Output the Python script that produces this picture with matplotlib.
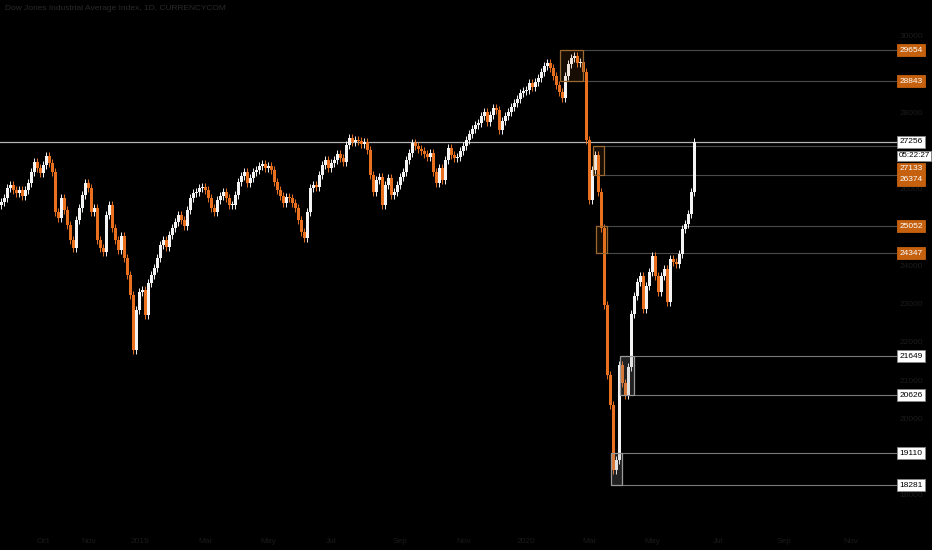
import numpy as np
import matplotlib.pyplot as plt
from matplotlib.transforms import blended_transform_factory
from matplotlib.patches import Rectangle

# closes (2-day candles)
closes = [
    25680, 25790, 26050, 26130, 26000, 25920, 26000, 25840, 26000, 26180, 26470, 26730, 26570, 26440, 26650, 26880,
    26700, 26470, 25420, 25260, 25790, 25470, 25080, 24690, 24480, 25210, 25520, 25860, 26180, 26050, 25420, 25520,
    24690, 24480, 24370, 25340, 25600, 25000, 24690, 24430, 24790, 24220, 23770, 23250, 21810,
    22860, 23330, 23380, 22730, 23560, 23770, 23950, 24220, 24560, 24690, 24500, 24820, 25000, 25160, 25340, 25210,
    25050, 25470, 25790, 25920, 25940, 26050, 26070, 25990, 25790, 25520, 25420, 25730, 25840, 25940, 25790, 25600,
    25600, 25860, 26200, 26360, 26460, 26180, 26310, 26460, 26520, 26620, 26670, 26570, 26620, 26520, 26200, 25990,
    25840, 25660, 25810, 25790, 25660, 25520, 25210, 24900,
    24740, 25420, 26050, 26130, 26070, 26390, 26650, 26780, 26570, 26700, 26780, 26940, 26830, 26730, 27170, 27350,
    27250, 27300, 27280, 27200, 27250, 27040, 26390, 25940, 26260, 26330, 25600, 26130, 26310, 25860, 25940, 26130,
    26330, 26460, 26780, 26960, 27220, 27140, 27070, 27010,
    26930, 26860, 26960, 26470, 26180, 26570, 26260, 26780, 27090, 26910, 26830, 26860, 27010, 27140, 27300, 27460,
    27590, 27690, 27750, 27930, 28030, 27770, 27960, 28140, 28090, 27560, 27800, 27930, 28030, 28160, 28270, 28370,
    28530, 28580, 28610, 28790, 28690, 28820, 28920, 29080, 29240, 29310, 29180, 28980, 28740, 28560, 28400, 28980,
    29290, 29440, 29500, 29310, 29340, 29080,
    27300, 25730, 26520, 26910, 25940, 25000, 22990, 21160, 20370, 18670, 18940, 21420, 20950, 20640, 21370, 22750,
    23220, 23590, 23750, 22880, 23480, 23850, 24270, 23750, 23330, 23750, 23930, 23070, 24190, 24110, 24060, 24320,
    24970, 25100, 25360, 25940, 27250,
]
first_open = 25600

# supply / demand zones: (first candle, last candle, top, bottom, kind)
zone_start = [187, 198, 199, 207, 204]
zone_end = [193, 200, 201, 210, 206]
zone_top = [29654, 27133, 25052, 21649, 19110]
zone_bot = [28843, 26374, 24347, 20626, 18281]
zone_kind = ["supply", "supply", "supply", "demand", "demand"]

last_price = 27256
countdown = "05:22:27"
title = "Dow Jones Industrial Average Index, 1D, CURRENCYCOM"

# scale labels not hidden behind the price tags
price_ticks = [30000, 28000, 26000, 24000, 23000, 22000, 21000, 20000, 18000]
time_labels = ["Oct", "Nov", "2019", "Mar", "May", "Jul", "Sep", "Nov", "2020", "Mar", "May", "Jul", "Sep", "Nov"]
time_pos = [14, 29, 46, 68, 89, 110, 133, 154, 175, 196, 217, 239, 261, 283]

UP = "#f4f4f4"
DOWN = "#e8701e"
ORANGE_LBL = "#c4600e"
FONT = ["Liberation Sans", "DejaVu Sans"]

c = np.array(closes, dtype=float)
o = np.concatenate([[first_open], c[:-1]])
idx = np.arange(len(c))
up = c >= o
wick = 110
hi = np.maximum(o, c) + wick
lo = np.minimum(o, c) - wick

fig = plt.figure(figsize=(9.32, 5.5), dpi=100)
fig.patch.set_facecolor("black")
ax = fig.add_axes([0, 0, 1, 1])
ax.set_facecolor("black")
ax.set_xlim(-0.5, 310.2)
ax.set_ylim(16584, 30961)
ax.axis("off")

cols = np.where(up, UP, DOWN)
ax.vlines(idx, lo, hi, colors=cols, linewidth=0.7, zorder=3)
body_h = np.maximum(np.abs(c - o), 30)
ax.bar(idx, body_h, bottom=np.minimum(o, c), width=0.72, color=cols, linewidth=0, zorder=4)

x_end = 298.5
for s, e, t, b, k in zip(zone_start, zone_end, zone_top, zone_bot, zone_kind):
    if k == "supply":
        ec, fc, lc = "#9a6a32", (0.8, 0.45, 0.1, 0.12), "#4a4a4a"
    else:
        ec, fc, lc = "#9a9a9a", (0.6, 0.6, 0.6, 0.22), "#7a7a7a"
    ax.add_patch(Rectangle((s - 0.7, b), e - s + 1.4, t - b, fc=fc, ec=ec, lw=0.9, zorder=5))
    ax.hlines([t, b], e + 0.7, x_end, colors=lc, linewidth=0.8, zorder=2)

ax.axhline(last_price, xmax=(x_end + 0.5) / 310.7, color="#b5b5b5", linewidth=0.9, zorder=2)

tr = blended_transform_factory(ax.transAxes, ax.transData)
lblx = 911 / 932

for p in price_ticks:
    ax.text(lblx, p, f"{p}", transform=tr, ha="center", va="center", fontsize=6, color="#1c1c1c", family=FONT)

# right-hand price tags; two of them pushed down to avoid overlap
labels = zone_top + zone_bot
kinds = zone_kind + zone_kind
shift = {27133: -16, 26374: -3}
for p, k in zip(labels, kinds):
    if k == "supply":
        fc, tc, ec = ORANGE_LBL, "white", ORANGE_LBL
    else:
        fc, tc, ec = "white", "black", "#888888"
    ax.annotate(f"{p}", (lblx, p), xycoords=tr, xytext=(0, shift.get(p, 0)), textcoords="offset points",
                ha="center", va="center", fontsize=6, color=tc, family=FONT, zorder=8,
                bbox=dict(boxstyle="square,pad=0.3", fc=fc, ec=ec, lw=0.6))

ax.annotate(f"{last_price}", (lblx, last_price), xycoords=tr, ha="center", va="center", fontsize=6,
            color="black", family=FONT, zorder=8,
            bbox=dict(boxstyle="square,pad=0.3", fc="white", ec="#888888", lw=0.6))
ax.annotate(countdown, (898.5 / 932, last_price), xycoords=tr, xytext=(0, -10), textcoords="offset points",
            ha="left", va="center", fontsize=5.8, color="black", family=FONT, zorder=8,
            bbox=dict(boxstyle="square,pad=0.2", fc="white", ec="#888888", lw=0.6))

for lab, pos in zip(time_labels, time_pos):
    ax.text(pos, 0.016, lab, transform=blended_transform_factory(ax.transData, ax.transAxes),
            ha="center", va="center", fontsize=6, color="#1a1a1a", family=FONT)

ax.text(5 / 932, 1 - 9 / 550, title, transform=ax.transAxes, ha="left", va="center",
        fontsize=6, color="#2a2a2a", family=FONT)

fig.savefig("out.png", dpi=100, facecolor="black")
